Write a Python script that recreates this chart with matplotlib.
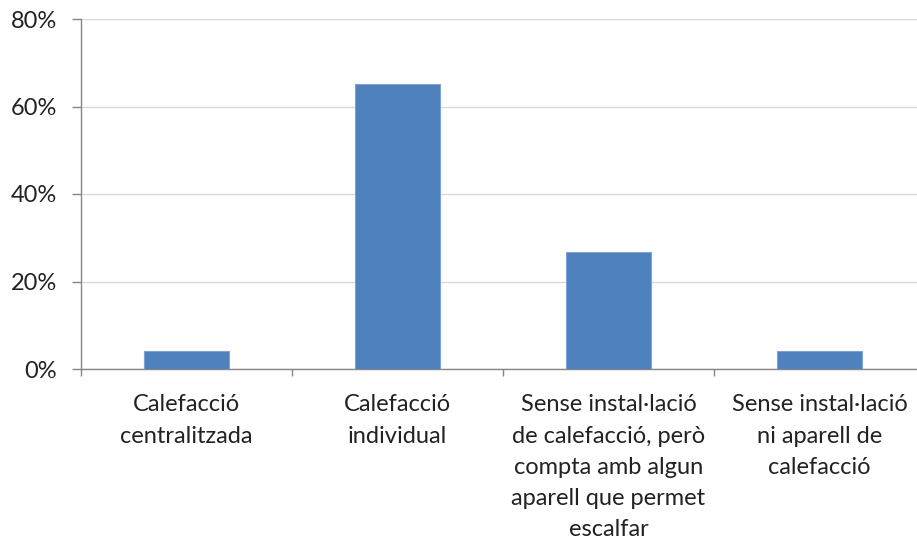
import matplotlib.pyplot as plt
from matplotlib.ticker import PercentFormatter

categories = [
    "Calefacció\ncentralitzada",
    "Calefacció\nindividual",
    "Sense instal·lació\nde calefacció, però\ncompta amb algun\naparell que permet\nescalfar",
    "Sense instal·lació\nni aparell de\ncalefacció",
]
shares = [4.1, 65.1, 26.7, 4.1]
y_ticks = [0, 20, 40, 60, 80]

plt.rcParams["font.family"] = ["Lato", "DejaVu Sans"]

fig = plt.figure(figsize=(9.17, 5.46), dpi=100)
ax = fig.add_axes([81 / 917, 1 - 369 / 546, 844 / 917, 350 / 546])

x = range(len(categories))
ax.bar(x, shares, width=0.4, color="#4F81BD", edgecolor="#7EA2D1", linewidth=0.8, zorder=3)

ax.set_xlim(-0.5, len(categories) - 0.5)
ax.set_ylim(0, 80)
ax.set_yticks(y_ticks)
ax.yaxis.set_major_formatter(PercentFormatter(decimals=0))
ax.grid(axis="y", color="#D9D9D9", linewidth=1.0, zorder=0)

for side in ["top", "right"]:
    ax.spines[side].set_visible(False)
for side in ["left", "bottom"]:
    ax.spines[side].set_color("#868686")
    ax.spines[side].set_linewidth(1.0)

# category separators as ticks on the boundaries
ax.set_xticks([i - 0.5 for i in range(len(categories) + 1)])
ax.set_xticklabels([])
ax.tick_params(axis="x", length=5, color="#868686", width=1.0)
ax.tick_params(axis="y", length=6.5, color="#868686", width=1.0, labelsize=17, pad=11, labelcolor="#222222")

for i, label in enumerate(categories):
    ax.text(i, -5.8, label, ha="center", va="top", fontsize=17, color="#222222",
            linespacing=1.6, transform=ax.transData, clip_on=False)

fig.savefig("out.png", dpi=100)
